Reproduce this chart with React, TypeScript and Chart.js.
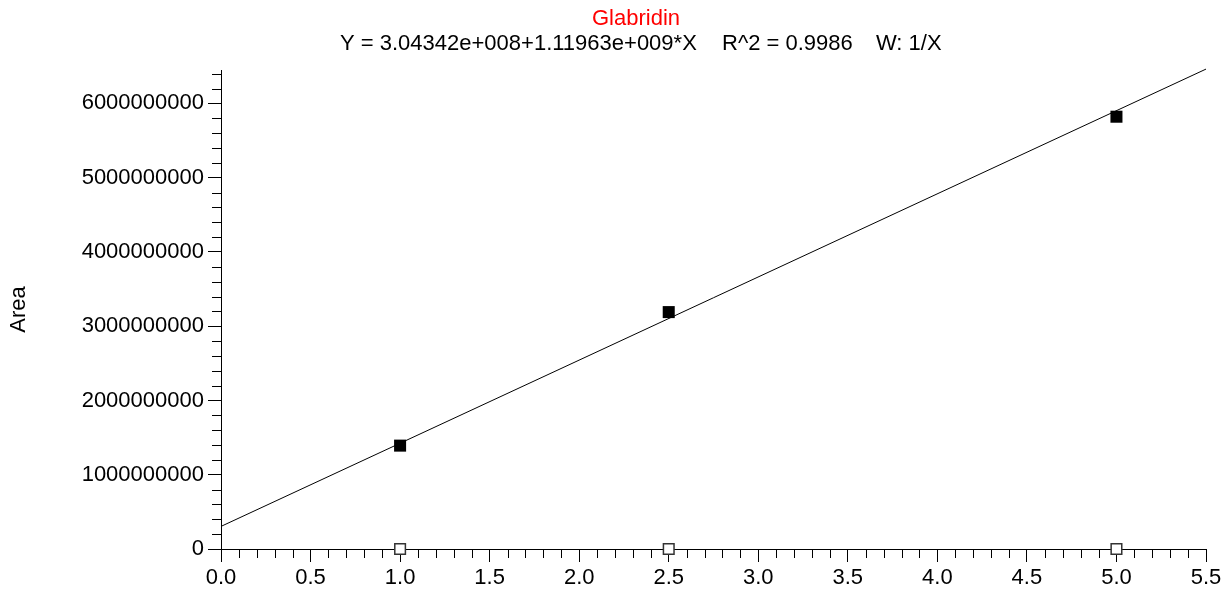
import React, { useEffect, useRef } from "react";
import { Chart, registerables } from "chart.js";

Chart.register(...registerables);

// ---- text ----
const compoundName = "Glabridin";
const equationText = "Y = 3.04342e+008+1.11963e+009*X";
const r2Text = "R^2 = 0.9986";
const weightText = "W: 1/X";
const yAxisTitle = "Area";

// ---- data ----
const calibrationX = [1.0, 2.5, 5.0];
const calibrationArea = [1392000000, 3190000000, 5821000000];
const excludedX = [1.0, 2.5, 5.0];
const excludedArea = [0, 0, 0];
const fitLineX = [0, 5.5];
const fitLineArea = [304342000, 6462307000];

// ---- axes ----
const xMin = 0;
const xMax = 5.5;
const xTickValues = [0, 0.5, 1.0, 1.5, 2.0, 2.5, 3.0, 3.5, 4.0, 4.5, 5.0, 5.5];
const xMinorStep = 0.1;
const yMin = 0;
const yMax = 6450000000;
const yTickValues = [0, 1000000000, 2000000000, 3000000000, 4000000000, 5000000000, 6000000000];
const yMinorStep = 200000000;

const FONT = '"Liberation Sans", Arial, Helvetica, sans-serif';

const isOnMajor = (v: number, majors: number[], eps: number) =>
  majors.some((m) => Math.abs(m - v) < eps);

const minorTicksPlugin = {
  id: "minorTicks",
  beforeDatasetsDraw(chart: any) {
    const { ctx } = chart;
    const x = chart.scales.x;
    const y = chart.scales.y;
    ctx.save();
    ctx.strokeStyle = "#000";
    ctx.lineWidth = 1;
    ctx.beginPath();
    const nx = Math.round((xMax - xMin) / xMinorStep);
    for (let i = 0; i <= nx; i++) {
      const v = xMin + i * xMinorStep;
      if (isOnMajor(v, xTickValues, xMinorStep / 10)) continue;
      const px = Math.round(x.getPixelForValue(v)) + 0.5;
      ctx.moveTo(px, y.bottom);
      ctx.lineTo(px, y.bottom + 9);
    }
    const ny = Math.floor((yMax - yMin) / yMinorStep);
    for (let i = 0; i <= ny; i++) {
      const v = yMin + i * yMinorStep;
      if (isOnMajor(v, yTickValues, yMinorStep / 10)) continue;
      const py = Math.round(y.getPixelForValue(v)) + 0.5;
      ctx.moveTo(x.left - 9, py);
      ctx.lineTo(x.left, py);
    }
    ctx.stroke();
    ctx.restore();
  },
};

const headerPlugin = {
  id: "header",
  afterDraw(chart: any) {
    const { ctx } = chart;
    ctx.save();
    ctx.font = `22px ${FONT}`;
    ctx.textBaseline = "alphabetic";
    ctx.fillStyle = "#ff0000";
    ctx.textAlign = "center";
    ctx.fillText(compoundName, 636, 25);
    ctx.fillStyle = "#000";
    ctx.textAlign = "left";
    ctx.fillText(equationText, 340, 50);
    ctx.fillText(r2Text, 722, 50);
    ctx.fillText(weightText, 876, 50);
    ctx.restore();
  },
};

export default function App() {
  const canvasRef = useRef<HTMLCanvasElement | null>(null);

  useEffect(() => {
    if (!canvasRef.current) return;
    Chart.defaults.font.family = FONT;
    const chart = new Chart(canvasRef.current, {
      type: "scatter",
      data: {
        datasets: [
          {
            label: "Calibration",
            data: calibrationX.map((x, i) => ({ x, y: calibrationArea[i] })),
            pointStyle: "rect",
            pointRadius: 8.5,
            pointHoverRadius: 8.5,
            backgroundColor: "#000",
            borderColor: "#000",
            borderWidth: 0,
            clip: false,
          } as any,
          {
            label: "Excluded",
            data: excludedX.map((x, i) => ({ x, y: excludedArea[i] })),
            pointStyle: "rect",
            pointRadius: 7.5,
            pointHoverRadius: 7.5,
            backgroundColor: "#fff",
            borderColor: "#333",
            borderWidth: 1.5,
            clip: false,
          } as any,
          {
            label: "Fit",
            data: fitLineX.map((x, i) => ({ x, y: fitLineArea[i] })),
            showLine: true,
            borderColor: "#000",
            borderWidth: 1,
            pointRadius: 0,
            pointHoverRadius: 0,
            clip: false,
          } as any,
        ],
      },
      options: {
        animation: false,
        responsive: false,
        maintainAspectRatio: false,
        events: [],
        layout: { padding: { top: 70, right: 20, left: 0, bottom: 0 } },
        plugins: {
          legend: { display: false },
          tooltip: { enabled: false },
          title: { display: false },
        },
        scales: {
          x: {
            type: "linear",
            min: xMin,
            max: xMax,
            afterBuildTicks: (s: any) => {
              s.ticks = xTickValues.map((value) => ({ value }));
            },
            ticks: {
              autoSkip: false,
              maxRotation: 0,
              padding: 3,
              color: "#000",
              font: { family: FONT, size: 22 },
              callback: (v: any) => Number(v).toFixed(1),
            },
            grid: {
              display: true,
              drawOnChartArea: false,
              drawTicks: true,
              tickLength: 13,
              tickColor: "#000",
              color: "#000",
            },
            border: { display: true, color: "#000", width: 1 },
            afterFit: (s: any) => {
              s.height = 43;
            },
          },
          y: {
            type: "linear",
            min: yMin,
            max: yMax,
            afterBuildTicks: (s: any) => {
              s.ticks = yTickValues.map((value) => ({ value }));
            },
            ticks: {
              autoSkip: false,
              padding: 4,
              color: "#000",
              font: { family: FONT, size: 22 },
              callback: (v: any) => String(Math.round(Number(v))),
            },
            grid: {
              display: true,
              drawOnChartArea: false,
              drawTicks: true,
              tickLength: 13,
              tickColor: "#000",
              color: "#000",
            },
            border: { display: true, color: "#000", width: 1 },
            title: {
              display: true,
              text: yAxisTitle,
              color: "#000",
              font: { family: FONT, size: 22 },
              padding: { top: 6, bottom: 0 },
            },
            afterFit: (s: any) => {
              s.width = 221;
            },
          },
        },
      } as any,
      plugins: [minorTicksPlugin, headerPlugin],
    });
    return () => chart.destroy();
  }, []);

  return (
    <div style={{ position: "fixed", left: 0, top: 0, width: 1226, height: 592, background: "#fff" }}>
      <canvas ref={canvasRef} width={1226} height={592} style={{ display: "block" }} />
    </div>
  );
}
